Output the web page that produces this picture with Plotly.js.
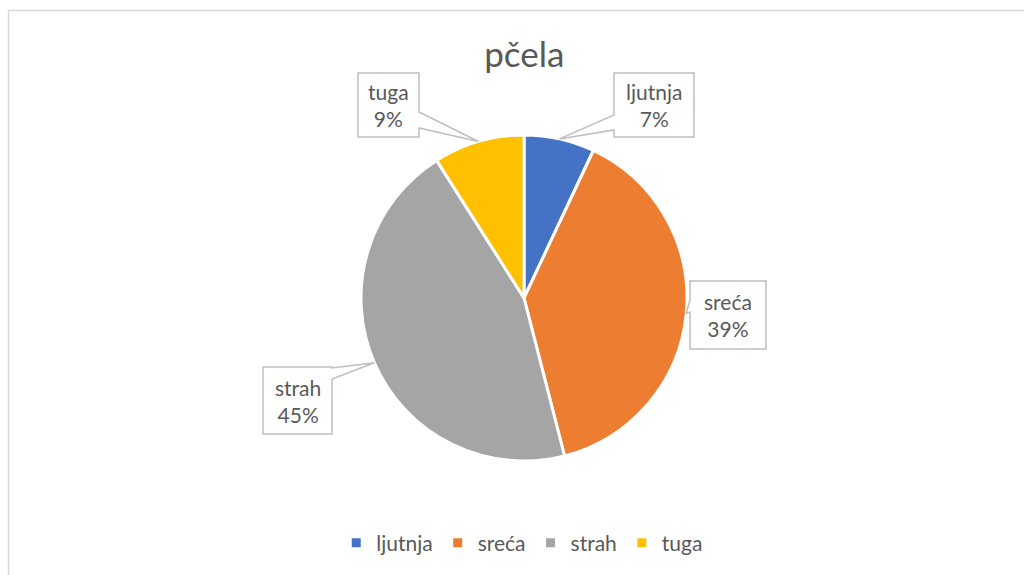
<!DOCTYPE html>
<html><head><meta charset="utf-8">
<script src="https://cdn.plot.ly/plotly-3.0.1.min.js"></script>
<style>html,body{margin:0;padding:0;background:#fff}#chart{width:1024px;height:575px}</style>
</head><body><div id="chart"></div>
<script>
const labels = ['ljutnja', 'sreća', 'strah', 'tuga'];
const values = [7, 39, 45, 9];
const colors = ['#4472C4', '#ED7D31', '#A5A5A5', '#FFC000'];
const chartTitle = 'pčela';

const W = 1024, H = 575;
const cx = 524, cy = 298, R = 163;
const FONT = 'Lato, "Open Sans", sans-serif';
// callout boxes (pixels): left, top, right, bottom, wedge side and base range
const boxes = [
  {l: 614, t: 73, r: 694, b: 137, side: 'left',  w0: 115, w1: 130},
  {l: 690, t: 281, r: 766, b: 349, side: 'left', w0: 300, w1: 312},
  {l: 263, t: 367, r: 332, b: 434, side: 'right', w0: 368, w1: 379},
  {l: 358, t: 73, r: 419, b: 137, side: 'right', w0: 112, w1: 128}
];
const px = (x) => (x / W).toFixed(5);
const py = (y) => (1 - y / H).toFixed(5);
const P = (x, y) => px(x) + ',' + py(y);

const total = values.reduce((a, b) => a + b, 0);
let cum = 0;
const annotations = [], shapes = [];
values.forEach((v, i) => {
  const mid = (cum + v / 2) / total; cum += v;
  const ang = mid * 2 * Math.PI;
  const tx = cx + R * Math.sin(ang), ty = cy - R * Math.cos(ang);
  const b = boxes[i];
  let path;
  if (b.side === 'right') {
    path = 'M' + P(b.l, b.t) + ' L' + P(b.r, b.t) + ' L' + P(b.r, b.w0) + ' L' + P(tx, ty) +
      ' L' + P(b.r, b.w1) + ' L' + P(b.r, b.b) + ' L' + P(b.l, b.b) + ' Z';
  } else {
    path = 'M' + P(b.l, b.t) + ' L' + P(b.r, b.t) + ' L' + P(b.r, b.b) + ' L' + P(b.l, b.b) +
      ' L' + P(b.l, b.w1) + ' L' + P(tx, ty) + ' L' + P(b.l, b.w0) + ' Z';
  }
  shapes.push({type: 'path', xref: 'paper', yref: 'paper', path: path,
    fillcolor: '#FFFFFF', line: {color: '#BFBFBF', width: 1.5}, layer: 'above'});
  const pct = Math.round(v / total * 100);
  annotations.push({
    x: (b.l + b.r) / 2 / W, y: 1 - (b.t + b.b) / 2 / H, xref: 'paper', yref: 'paper',
    xanchor: 'center', yanchor: 'middle', showarrow: false,
    text: labels[i] + '<br>' + pct + '%',
    font: {family: FONT, size: 21, color: '#595959'}, align: 'center'
  });
});

shapes.push({type: 'rect', xref: 'paper', yref: 'paper', x0: 8.5 / W, x1: 1.01, y0: -0.01, y1: 1 - 10.5 / H,
  line: {color: '#D9D9D9', width: 1.5}, fillcolor: 'rgba(0,0,0,0)', layer: 'below'});

const data = [{
  type: 'pie', labels: labels, values: values, sort: false, direction: 'clockwise', rotation: 0,
  marker: {colors: colors, line: {color: '#FFFFFF', width: 3}},
  textinfo: 'none', hoverinfo: 'label+percent',
  domain: {x: [(cx - R) / W, (cx + R) / W], y: [1 - (cy + R) / H, 1 - (cy - R) / H]}
}];

const layout = {
  width: W, height: H, margin: {l: 0, r: 0, t: 0, b: 0},
  paper_bgcolor: '#FFFFFF', plot_bgcolor: '#FFFFFF',
  title: {text: chartTitle, x: 0.512, xanchor: 'center', y: 1 - 55 / H, yanchor: 'middle',
    font: {family: FONT, size: 35, color: '#595959'}},
  showlegend: true,
  legend: {orientation: 'h', x: 0.51, xanchor: 'center', y: 1 - 543 / H, yanchor: 'middle',
    font: {family: FONT, size: 21, color: '#595959'}, itemwidth: 30},
  annotations: annotations,
  shapes: shapes
};
Plotly.newPlot('chart', data, layout, {displayModeBar: false, staticPlot: true});
</script></body></html>
